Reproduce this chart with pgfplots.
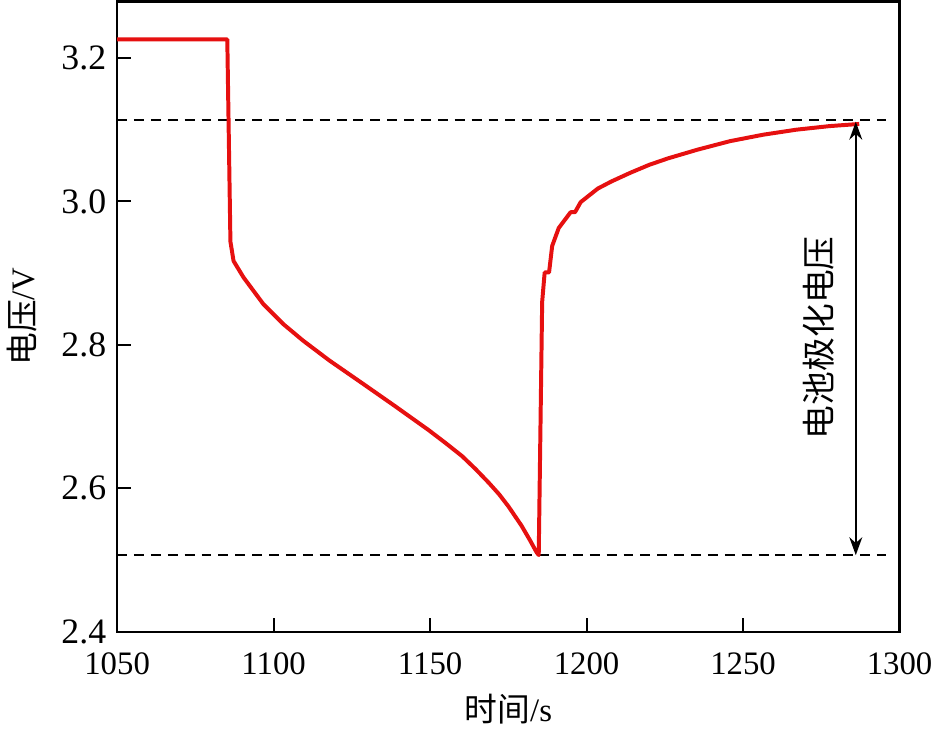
\documentclass[border=0pt]{standalone}
\usepackage{fontspec}
\usepackage{pgfplots}
\pgfplotsset{compat=1.18}
\usetikzlibrary{arrows.meta}
\setmainfont{Liberation Serif}
\newfontfamily\cjk{Noto Sans CJK SC}
\definecolor{curvered}{RGB}{230,16,16}
\begin{document}
\begin{tikzpicture}
\begin{axis}[
  scale only axis,
  width=394pt, height=317.5pt,
  xmin=1050, xmax=1300,
  ymin=2.4, ymax=3.279,
  xtick={1050,1100,...,1300},
  ytick={2.4,2.6,2.8,3.0,3.2},
  tick align=inside,
  xtick pos=bottom, ytick pos=left,
  major tick length=7pt,
  axis line style={line width=1.3pt},
  every tick/.style={black, line width=1pt},
  /pgf/number format/assume math mode=true,
  xticklabel style={font=\fontsize{16.5}{19}\selectfont, /pgf/number format/1000 sep={}, yshift=-7pt},
  yticklabel style={font=\fontsize{18}{21}\selectfont, /pgf/number format/fixed, /pgf/number format/fixed zerofill, /pgf/number format/precision=1, xshift=-2pt},
  xlabel={{\cjk 时间}/s},
  ylabel={{\cjk 电压}/V},
  label style={font=\fontsize{16.5}{19}\selectfont},
  xlabel style={at={(axis description cs:0.5,-0.122)}, anchor=center},
  ylabel style={at={(axis description cs:-0.122,0.5)}, anchor=center},
  clip=false,
]
% dashed reference lines
\addplot[black, line width=1pt, dash pattern=on 5pt off 3.5pt] coordinates {(1050,3.113) (1295.6,3.113)};
\addplot[black, line width=1pt, dash pattern=on 5pt off 3.5pt] coordinates {(1050,2.507) (1295.6,2.507)};
% voltage curve
\addplot[curvered, line width=2pt, line join=round] coordinates {
(1050,3.226) (1085.2,3.226)
(1086.2,2.944) (1087.2,2.917)
(1090.4,2.894) (1096.7,2.857) (1103.1,2.829) (1109.4,2.806)
(1117.9,2.778) (1128.5,2.746) (1139.0,2.714) (1149.6,2.681)
(1155.0,2.663) (1160.2,2.645) (1164.5,2.627) (1168.7,2.608) (1172.0,2.592) (1175.0,2.575) (1179.2,2.548)
(1182.0,2.527) (1184.0,2.511) (1184.7,2.507)
(1185.8,2.860) (1186.6,2.901) (1188.0,2.901) (1189.0,2.938)
(1191.1,2.963) (1194.9,2.985) (1196.3,2.985) (1198.1,2.999)
(1203.6,3.018) (1208.0,3.028) (1214.0,3.040) (1220.0,3.051) (1226.0,3.060)
(1235.3,3.072) (1245.8,3.084) (1256.4,3.093) (1267.0,3.100) (1277.6,3.105)
(1287.1,3.108)
};
\draw[{Stealth[length=9pt,width=6.5pt]}-{Stealth[length=9pt,width=6.5pt]}, line width=1pt]
  (axis cs:1286,2.507) -- (axis cs:1286,3.111);
\node[rotate=90, font=\fontsize{17}{20}\selectfont\cjk] at (axis cs:1274.3,2.81) {电池极化电压};
\end{axis}
\end{tikzpicture}
\end{document}
